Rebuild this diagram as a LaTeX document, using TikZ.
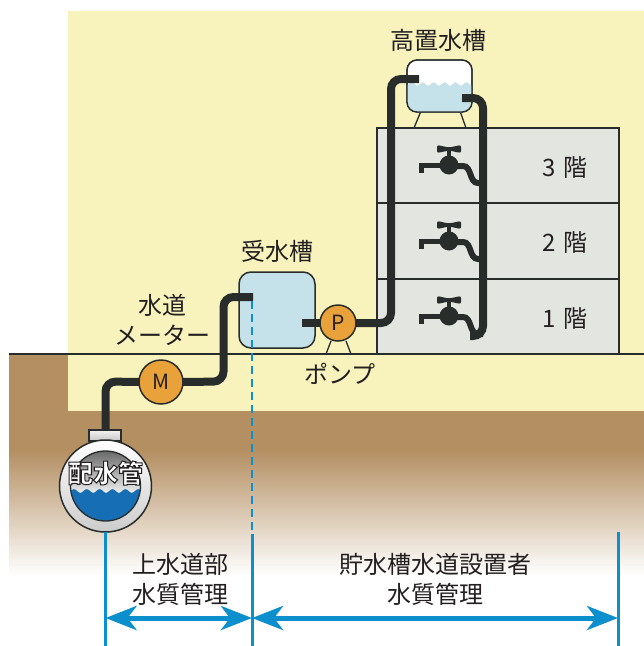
\documentclass[tikz,border=0pt]{standalone}
\usepackage{fontspec}
\newfontfamily\jp{Noto Sans CJK JP}
\usetikzlibrary{arrows.meta}

\definecolor{panel}{RGB}{248,243,188}
\definecolor{soil}{RGB}{180,143,98}
\definecolor{floorgray}{RGB}{227,229,225}
\definecolor{pipe}{RGB}{40,45,43}
\definecolor{ink}{RGB}{35,31,32}
\definecolor{tankblue}{RGB}{197,225,234}
\definecolor{meterorange}{RGB}{233,162,58}
\definecolor{zone}{RGB}{12,143,205}
\definecolor{mainblue}{RGB}{22,110,180}

% white letters with a dark rim: the stroke colour is set by hand,
% the fake bold font then strokes every glyph
\newcommand\rimtext[1]{{\special{pdf:code 0.14 0.12 0.13 RG}%
  \addfontfeature{FakeBold=4}#1}}

\tikzset{
  txt/.style={font=\jp\fontsize{24}{26}\selectfont, text=ink, inner sep=0pt},
  pipeline/.style={draw=pipe, line width=8pt, rounded corners=10pt},
  thinline/.style={draw=pipe, line width=1.3pt},
  gauge/.style={circle, draw=pipe, line width=1.5pt, fill=meterorange, inner sep=0pt,
    outer sep=0pt, text=ink, font=\jp\fontsize{21}{21}\selectfont},
  zoneline/.style={draw=zone, line width=3pt},
  zonearrow/.style={draw=zone, line width=5pt,
    {Stealth[length=31pt,width=24pt,inset=9pt]}-{Stealth[length=31pt,width=24pt,inset=9pt]}},
}

\begin{document}
\begin{tikzpicture}[x=1pt,y=-1pt]
\useasboundingbox (0,0) rectangle (644,646);
%\draw[step=50,gray,very thin] (0,0) grid (644,646);

% ground and the yellow back panel
\fill[soil] (9,354) rectangle (644,450);
\shade[top color=soil, bottom color=white] (9,450) rectangle (644,575);
\fill[panel] (68,11) rectangle (644,411);
\draw[thinline] (9,354) -- (644,354);

% three floors
\foreach \t/\b/\n in {128/203/3, 203/279/2, 279/354/1} {
  \draw[thinline, fill=floorgray] (377,\t) rectangle (619,\b);
  \node[txt] (floor\n) at (565,\t+40) {\n\hspace{7pt}階};
}

% taps
\foreach \f in {0,76,151} {
  \fill[pipe, rounded corners=2pt] (437,145+\f) -- (449,147.5+\f) -- (461,145+\f)
    -- (461,153+\f) -- (449,150.5+\f) -- (437,153+\f) -- cycle;
  \draw[pipe, line width=3.5pt] (449,150+\f) -- (449,160+\f);
  \fill[pipe] (449,165+\f) circle (9.5pt);
  \draw[pipe, line width=5pt] (449,165.5+\f) -- (421.5,165.5+\f) -- (421.5,173+\f);
  \draw[pipe, line width=6pt] (455,166+\f) -- (463,166+\f)
    .. controls (472,166+\f) and (469,183+\f) .. (478,183+\f) -- (483,183+\f);
}

% roof tank
\draw[thinline] (414,128) -- (421,111);
\draw[thinline] (466,128) -- (460,111);
\node[thinline, fill=white, rounded corners=10pt, minimum width=65pt,
  minimum height=52pt, outer sep=0pt] (roof tank) at (439.5,86) {};
\begin{scope}
  \clip[rounded corners=10pt] (roof tank.south west) rectangle (roof tank.north east);
  \fill[tankblue] plot[domain=405:475, samples=90] (\x,{84+1.6*sin(33*\x)})
    -- (475,115) -- (405,115) -- cycle;
\end{scope}
\draw[thinline, rounded corners=10pt] (roof tank.south west) rectangle (roof tank.north east);
\node[txt] (roof label) at (438,40) {高置水槽};

% ground tank and pump
\draw[thinline] (331,341) -- (326,354);
\draw[thinline] (346,341) -- (351,354);
\node[draw=pipe, line width=1.5pt, fill=tankblue, rounded corners=12pt,
  minimum width=76pt, minimum height=76pt, outer sep=0pt] (ground tank) at (277,310) {};
\node[txt] (ground label) at (277,251) {受水槽};
\node[gauge, minimum size=36pt] (pump) at (338,323) {P};
\node[txt] (pump label) at (340,374) {ポンプ};

% meter
\node[gauge, minimum size=44pt] (meter) at (161,382) {M};
\node[txt] (meter label a) at (162,305) {水道};
\node[txt] (meter label b) at (162,335) {メーター};

% ends of pipes inside the tanks
\coordinate (ground in) at (253,297);
\coordinate (ground out) at (302,323);
\coordinate (roof in) at (419,79);
\coordinate (roof out) at (462,98);
\coordinate (main top) at (105.5,430);
\coordinate (tap end) at (470,336);

% pipes
\draw[pipeline] (main top) -- (105.5,381.5) -- (meter.west);
\draw[pipeline] (meter.east) -- (223.5,381.5) -- (223.5,297) -- (ground in);
\draw[pipeline] (ground out) -- (pump.west);
\draw[pipeline] (pump.east) -- (391,323) -- (391,79) -- (roof in);
\draw[pipeline] (roof out) -- (483,98) -- (483,336) -- (tap end);

% main under the road
\shade[top color=gray!10, bottom color=gray!45, draw=pipe, line width=1.3pt]
  (89,430) rectangle (121,441);
\node[circle, draw=pipe, line width=1.5pt, minimum size=92pt, outer sep=0pt,
  top color=white, bottom color=gray!40] (main) at (105.5,486) {};
\begin{scope}
  \clip (105.5,486) circle (35pt);
  \shade[top color=gray!80!black, bottom color=white!85!gray] (68,450) rectangle (143,492);
  \fill[mainblue] plot[domain=68:143, samples=90] (\x,{491+1.8*sin(28*\x)})
    -- (143,525) -- (68,525) -- cycle;
\end{scope}
\draw[pipe, line width=1.3pt] (105.5,486) circle (35pt);
\node[txt, text=white, font=\jp\bfseries\fontsize{25}{27}\selectfont] (main label)
  at (105.5,473) {\rimtext{配水管}};

% who looks after the water
\coordinate (split top) at (252,301);
\coordinate (split low) at (252,534);
\coordinate (split foot) at (252,646);
\coordinate (end top) at (618,532);
\coordinate (end foot) at (618,646);
\coordinate (main foot) at (105.5,646);
\draw[zone, line width=2pt, dash pattern=on 8pt off 5pt] (split top) -- (split low);
\draw[zoneline] (main.south) -- (main foot);
\draw[zoneline] (split low) -- (split foot);
\draw[zoneline] (end top) -- (end foot);
\draw[zonearrow] (105.5,618) -- (252,618);
\draw[zonearrow] (252,618) -- (618,618);

\node[txt] (city a) at (180,564) {上水道部};
\node[txt] (city b) at (180,594) {水質管理};
\node[txt] (owner a) at (435,564) {貯水槽水道設置者};
\node[txt] (owner b) at (435,594) {水質管理};
\end{tikzpicture}
\end{document}
